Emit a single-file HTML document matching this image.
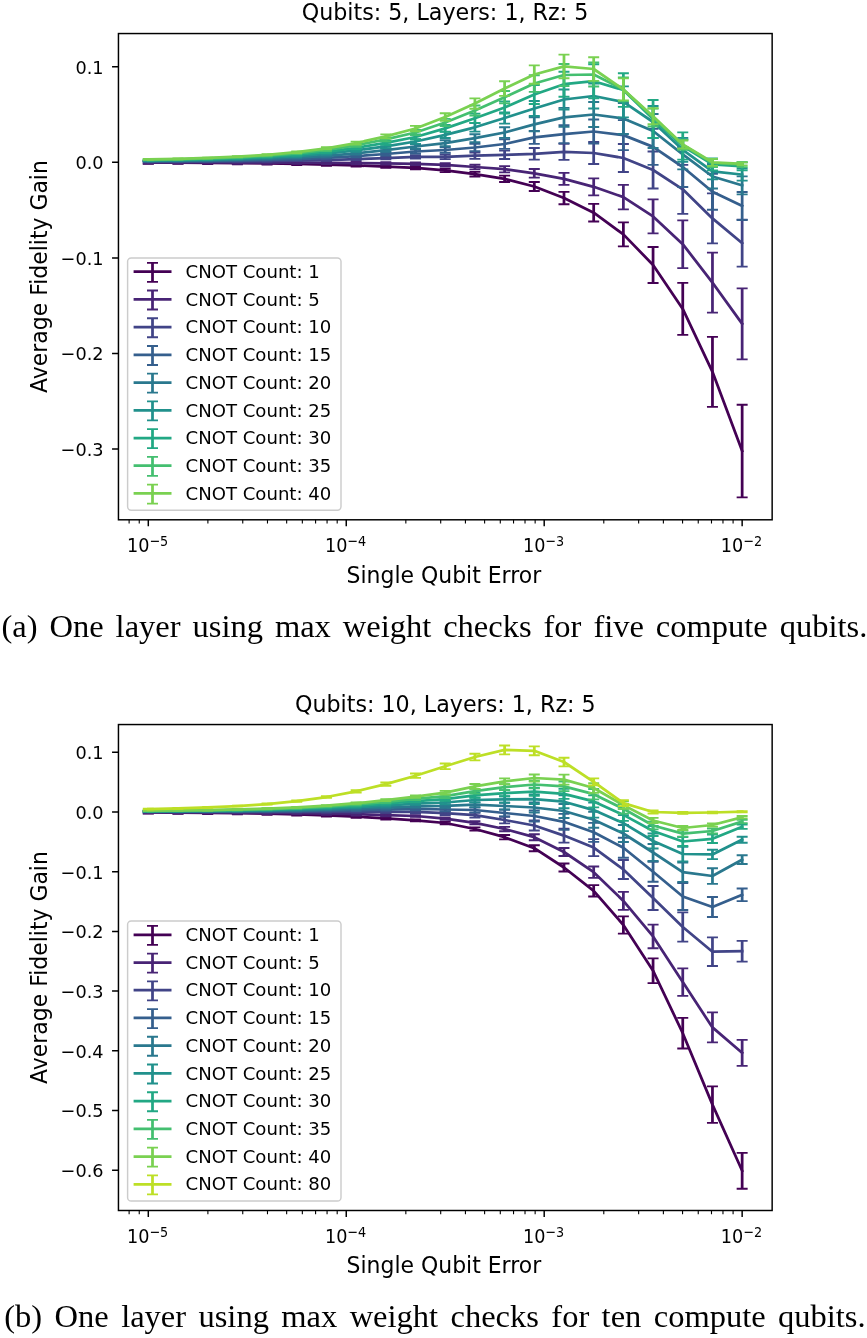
<!DOCTYPE html>
<html lang="en"><head><meta charset="utf-8"><title>Average Fidelity Gain</title>
<style>html,body{margin:0;padding:0;background:#fff}svg{display:block}text{white-space:pre}</style></head>
<body>
<svg width="867" height="1338" viewBox="0 0 867 1338" font-family='"DejaVu Sans", "Liberation Sans", sans-serif' fill="#000">
<defs><filter id="soft" x="0" y="0" width="100%" height="100%" filterUnits="userSpaceOnUse" color-interpolation-filters="sRGB"><feGaussianBlur stdDeviation="0.55"/></filter></defs>
<g filter="url(#soft)">
<clipPath id="c33"><rect x="118.45" y="33.55" width="653.7" height="486.25"/></clipPath>
<g clip-path="url(#c33)" fill="none" stroke-linejoin="round">
<g stroke="#440154">
<polyline points="148.3,162.58 177.99,162.7 207.69,162.87 237.38,163.1 267.07,163.43 296.76,163.9 326.45,164.55 356.15,165.45 385.84,166.58 415.53,167.9 445.22,170.4 474.92,174.2 504.61,178.8 534.3,186.5 563.99,198 593.69,212.7 623.38,234.4 653.07,265 682.76,308.9 712.46,371.8 742.15,451" stroke-width="2.75" stroke-linecap="square"/>
<path d="M148.3 161.38V163.78M177.99 161.5V163.9M207.69 161.67V164.07M237.38 161.9V164.3M267.07 162.23V164.63M296.76 162.7V165.1M326.45 163.35V165.75M356.15 164.25V166.65M385.84 165.38V167.78M415.53 166.6V169.2M445.22 168.7V172.1M474.92 171.9V176.5M504.61 175.6V182M534.3 182V191M563.99 191.8V204.2M593.69 203.9V221.5M623.38 222.4V246.4M653.07 247V283M682.76 282.9V334.9M712.46 336.8V406.8M742.15 404.7V497.3" stroke-width="2.75"/>
<path d="M142.8 161.38h11M142.8 163.78h11M172.49 161.5h11M172.49 163.9h11M202.19 161.67h11M202.19 164.07h11M231.88 161.9h11M231.88 164.3h11M261.57 162.23h11M261.57 164.63h11M291.26 162.7h11M291.26 165.1h11M320.95 163.35h11M320.95 165.75h11M350.65 164.25h11M350.65 166.65h11M380.34 165.38h11M380.34 167.78h11M410.03 166.6h11M410.03 169.2h11M439.72 168.7h11M439.72 172.1h11M469.42 171.9h11M469.42 176.5h11M499.11 175.6h11M499.11 182h11M528.8 182h11M528.8 191h11M558.49 191.8h11M558.49 204.2h11M588.19 203.9h11M588.19 221.5h11M617.88 222.4h11M617.88 246.4h11M647.57 247h11M647.57 283h11M677.26 282.9h11M677.26 334.9h11M706.96 336.8h11M706.96 406.8h11M736.65 404.7h11M736.65 497.3h11" stroke-width="1.85"/>
</g>
<g stroke="#482475">
<polyline points="148.3,162.38 177.99,162.41 207.69,162.45 237.38,162.51 267.07,162.6 296.76,162.73 326.45,162.9 356.15,163.14 385.84,163.45 415.53,163.8 445.22,164.9 474.92,167 504.61,169.2 534.3,173.3 563.99,178.9 593.69,186.8 623.38,197.1 653.07,216.4 682.76,244.2 712.46,282.6 742.15,323.8" stroke-width="2.75" stroke-linecap="square"/>
<path d="M148.3 161.18V163.58M177.99 161.21V163.61M207.69 161.25V163.65M237.38 161.31V163.71M267.07 161.4V163.8M296.76 161.53V163.93M326.45 161.7V164.1M356.15 161.94V164.34M385.84 162.25V164.65M415.53 162.5V165.1M445.22 163.2V166.6M474.92 164.7V169.3M504.61 166.1V172.3M534.3 169V177.6M563.99 172.9V184.9M593.69 178.3V195.3M623.38 184.8V209.4M653.07 199.4V233.4M682.76 220.3V268.1M712.46 252.6V312.6M742.15 288.3V359.3" stroke-width="2.75"/>
<path d="M142.8 161.18h11M142.8 163.58h11M172.49 161.21h11M172.49 163.61h11M202.19 161.25h11M202.19 163.65h11M231.88 161.31h11M231.88 163.71h11M261.57 161.4h11M261.57 163.8h11M291.26 161.53h11M291.26 163.93h11M320.95 161.7h11M320.95 164.1h11M350.65 161.94h11M350.65 164.34h11M380.34 162.25h11M380.34 164.65h11M410.03 162.5h11M410.03 165.1h11M439.72 163.2h11M439.72 166.6h11M469.42 164.7h11M469.42 169.3h11M499.11 166.1h11M499.11 172.3h11M528.8 169h11M528.8 177.6h11M558.49 172.9h11M558.49 184.9h11M588.19 178.3h11M588.19 195.3h11M617.88 184.8h11M617.88 209.4h11M647.57 199.4h11M647.57 233.4h11M677.26 220.3h11M677.26 268.1h11M706.96 252.6h11M706.96 312.6h11M736.65 288.3h11M736.65 359.3h11" stroke-width="1.85"/>
</g>
<g stroke="#414487">
<polyline points="148.3,161.84 177.99,161.75 207.69,161.61 237.38,161.4 267.07,161.11 296.76,160.68 326.45,160.07 356.15,159.22 385.84,158.15 415.53,156.9 445.22,156.8 474.92,155.7 504.61,154.8 534.3,153.8 563.99,151.8 593.69,153 623.38,158 653.07,170 682.76,189.3 712.46,218.4 742.15,243.1" stroke-width="2.75" stroke-linecap="square"/>
<path d="M148.3 161.44V162.24M177.99 161.35V162.15M207.69 161.21V162.01M237.38 161V161.8M267.07 160.71V161.51M296.76 160.17V161.19M326.45 159.38V160.76M356.15 158.29V160.15M385.84 156.89V159.41M415.53 155.2V158.6M445.22 154.5V159.1M474.92 152.6V158.8M504.61 150.6V159M534.3 148V159.6M563.99 143.8V159.8M593.69 142V164M623.38 144V172M653.07 151.5V188.5M682.76 164.8V213.8M712.46 193.4V243.4M742.15 219.6V266.6" stroke-width="2.75"/>
<path d="M142.8 161.44h11M142.8 162.24h11M172.49 161.35h11M172.49 162.15h11M202.19 161.21h11M202.19 162.01h11M231.88 161h11M231.88 161.8h11M261.57 160.71h11M261.57 161.51h11M291.26 160.17h11M291.26 161.19h11M320.95 159.38h11M320.95 160.76h11M350.65 158.29h11M350.65 160.15h11M380.34 156.89h11M380.34 159.41h11M410.03 155.2h11M410.03 158.6h11M439.72 154.5h11M439.72 159.1h11M469.42 152.6h11M469.42 158.8h11M499.11 150.6h11M499.11 159h11M528.8 148h11M528.8 159.6h11M558.49 143.8h11M558.49 159.8h11M588.19 142h11M588.19 164h11M617.88 144h11M617.88 172h11M647.57 151.5h11M647.57 188.5h11M677.26 164.8h11M677.26 213.8h11M706.96 193.4h11M706.96 243.4h11M736.65 219.6h11M736.65 266.6h11" stroke-width="1.85"/>
</g>
<g stroke="#355f8d">
<polyline points="148.3,161.38 177.99,161.2 207.69,160.92 237.38,160.51 267.07,159.91 296.76,159.05 326.45,157.84 356.15,156.15 385.84,154 415.53,151.5 445.22,150 474.92,147.5 504.61,144 534.3,137.3 563.99,134.1 593.69,131.5 623.38,135.1 653.07,146.9 682.76,167 712.46,191.7 742.15,206" stroke-width="2.75" stroke-linecap="square"/>
<path d="M148.3 160.98V161.78M177.99 160.8V161.6M207.69 160.52V161.32M237.38 160.11V160.91M267.07 159.47V160.36M296.76 158.45V159.65M326.45 157.03V158.65M356.15 155.05V157.24M385.84 152.52V155.48M415.53 149.5V153.5M445.22 147.3V152.7M474.92 143.9V151.1M504.61 139.2V148.8M534.3 130.8V143.8M563.99 125.1V143.1M593.69 119.5V143.5M623.38 120.1V150.1M653.07 128.9V164.9M682.76 147V187M712.46 173.7V209.7M742.15 192V220" stroke-width="2.75"/>
<path d="M142.8 160.98h11M142.8 161.78h11M172.49 160.8h11M172.49 161.6h11M202.19 160.52h11M202.19 161.32h11M231.88 160.11h11M231.88 160.91h11M261.57 159.47h11M261.57 160.36h11M291.26 158.45h11M291.26 159.65h11M320.95 157.03h11M320.95 158.65h11M350.65 155.05h11M350.65 157.24h11M380.34 152.52h11M380.34 155.48h11M410.03 149.5h11M410.03 153.5h11M439.72 147.3h11M439.72 152.7h11M469.42 143.9h11M469.42 151.1h11M499.11 139.2h11M499.11 148.8h11M528.8 130.8h11M528.8 143.8h11M558.49 125.1h11M558.49 143.1h11M588.19 119.5h11M588.19 143.5h11M617.88 120.1h11M617.88 150.1h11M647.57 128.9h11M647.57 164.9h11M677.26 147h11M677.26 187h11M706.96 173.7h11M706.96 209.7h11M736.65 192h11M736.65 220h11" stroke-width="1.85"/>
</g>
<g stroke="#2a788e">
<polyline points="148.3,160.96 177.99,160.69 207.69,160.28 237.38,159.68 267.07,158.81 296.76,157.55 326.45,155.77 356.15,153.3 385.84,150.15 415.53,146.5 445.22,143.2 474.92,138.2 504.61,132.5 534.3,124.4 563.99,117.3 593.69,114.5 623.38,118.5 653.07,131 682.76,154.3 712.46,176.5 742.15,185.4" stroke-width="2.75" stroke-linecap="square"/>
<path d="M148.3 160.56V161.36M177.99 160.29V161.09M207.69 159.88V160.68M237.38 159.28V160.08M267.07 158.32V159.3M296.76 156.89V158.21M326.45 154.88V156.66M356.15 152.09V154.5M385.84 148.53V151.78M415.53 144.3V148.7M445.22 140.2V146.2M474.92 134.2V142.2M504.61 127.2V137.8M534.3 117.4V131.4M563.99 107.8V126.8M593.69 102V127M623.38 103V134M653.07 114V148M682.76 139.3V169.3M712.46 164.5V188.5M742.15 176.4V194.4" stroke-width="2.75"/>
<path d="M142.8 160.56h11M142.8 161.36h11M172.49 160.29h11M172.49 161.09h11M202.19 159.88h11M202.19 160.68h11M231.88 159.28h11M231.88 160.08h11M261.57 158.32h11M261.57 159.3h11M291.26 156.89h11M291.26 158.21h11M320.95 154.88h11M320.95 156.66h11M350.65 152.09h11M350.65 154.5h11M380.34 148.53h11M380.34 151.78h11M410.03 144.3h11M410.03 148.7h11M439.72 140.2h11M439.72 146.2h11M469.42 134.2h11M469.42 142.2h11M499.11 127.2h11M499.11 137.8h11M528.8 117.4h11M528.8 131.4h11M558.49 107.8h11M558.49 126.8h11M588.19 102h11M588.19 127h11M617.88 103h11M617.88 134h11M647.57 114h11M647.57 148h11M677.26 139.3h11M677.26 169.3h11M706.96 164.5h11M706.96 188.5h11M736.65 176.4h11M736.65 194.4h11" stroke-width="1.85"/>
</g>
<g stroke="#21918c">
<polyline points="148.3,160.54 177.99,160.18 207.69,159.64 237.38,158.85 267.07,157.7 296.76,156.05 326.45,153.7 356.15,150.45 385.84,146.31 415.53,141.5 445.22,134.8 474.92,127.3 504.61,118 534.3,108.5 563.99,99.5 593.69,96 623.38,101.9 653.07,122 682.76,149.8 712.46,171.4 742.15,174.6" stroke-width="2.75" stroke-linecap="square"/>
<path d="M148.3 160.14V160.94M177.99 159.78V160.58M207.69 159.24V160.04M237.38 158.45V159.25M267.07 157.17V158.24M296.76 155.33V156.77M326.45 152.73V154.67M356.15 149.13V151.76M385.84 144.53V148.09M415.53 139.1V143.9M445.22 131.6V138M474.92 123V131.6M504.61 112.4V123.6M534.3 101V116M563.99 89.5V109.5M593.69 83.5V108.5M623.38 86.4V117.4M653.07 106V138M682.76 137.8V161.8M712.46 163.4V179.4M742.15 168.6V180.6" stroke-width="2.75"/>
<path d="M142.8 160.14h11M142.8 160.94h11M172.49 159.78h11M172.49 160.58h11M202.19 159.24h11M202.19 160.04h11M231.88 158.45h11M231.88 159.25h11M261.57 157.17h11M261.57 158.24h11M291.26 155.33h11M291.26 156.77h11M320.95 152.73h11M320.95 154.67h11M350.65 149.13h11M350.65 151.76h11M380.34 144.53h11M380.34 148.09h11M410.03 139.1h11M410.03 143.9h11M439.72 131.6h11M439.72 138h11M469.42 123h11M469.42 131.6h11M499.11 112.4h11M499.11 123.6h11M528.8 101h11M528.8 116h11M558.49 89.5h11M558.49 109.5h11M588.19 83.5h11M588.19 108.5h11M617.88 86.4h11M617.88 117.4h11M647.57 106h11M647.57 138h11M677.26 137.8h11M677.26 161.8h11M706.96 163.4h11M706.96 179.4h11M736.65 168.6h11M736.65 180.6h11" stroke-width="1.85"/>
</g>
<g stroke="#22a884">
<polyline points="148.3,160.15 177.99,159.72 207.69,159.07 237.38,158.11 267.07,156.71 296.76,154.7 326.45,151.84 356.15,147.88 385.84,142.85 415.53,137 445.22,128.4 474.92,118.2 504.61,107.5 534.3,94.5 563.99,84.2 593.69,81.2 623.38,90 653.07,119 682.76,146 712.46,164.4 742.15,166.3" stroke-width="2.75" stroke-linecap="square"/>
<path d="M148.3 159.75V160.55M177.99 159.32V160.12M207.69 158.67V159.47M237.38 157.7V158.52M267.07 156.15V157.26M296.76 153.95V155.45M326.45 150.83V152.85M356.15 146.51V149.25M385.84 141V144.7M415.53 134.5V139.5M445.22 125V131.8M474.92 113.6V122.8M504.61 101.5V113.5M534.3 85V104M563.99 71.7V96.7M593.69 64.2V98.2M623.38 73.2V106.8M653.07 100V138M682.76 132.4V159.6M712.46 158.4V170.4M742.15 162.3V170.3" stroke-width="2.75"/>
<path d="M142.8 159.75h11M142.8 160.55h11M172.49 159.32h11M172.49 160.12h11M202.19 158.67h11M202.19 159.47h11M231.88 157.7h11M231.88 158.52h11M261.57 156.15h11M261.57 157.26h11M291.26 153.95h11M291.26 155.45h11M320.95 150.83h11M320.95 152.85h11M350.65 146.51h11M350.65 149.25h11M380.34 141h11M380.34 144.7h11M410.03 134.5h11M410.03 139.5h11M439.72 125h11M439.72 131.8h11M469.42 113.6h11M469.42 122.8h11M499.11 101.5h11M499.11 113.5h11M528.8 85h11M528.8 104h11M558.49 71.7h11M558.49 96.7h11M588.19 64.2h11M588.19 98.2h11M617.88 73.2h11M617.88 106.8h11M647.57 100h11M647.57 138h11M677.26 132.4h11M677.26 159.6h11M706.96 158.4h11M706.96 170.4h11M736.65 162.3h11M736.65 170.3h11" stroke-width="1.85"/>
</g>
<g stroke="#44bf70">
<polyline points="148.3,159.77 177.99,159.26 207.69,158.49 237.38,157.36 267.07,155.71 296.76,153.34 326.45,149.98 356.15,145.32 385.84,139.39 415.53,132.5 445.22,122.5 474.92,110.5 504.61,97.2 534.3,83.5 563.99,75 593.69,74.5 623.38,89.4 653.07,117.5 682.76,144.9 712.46,163 742.15,164.6" stroke-width="2.75" stroke-linecap="square"/>
<path d="M148.3 159.37V160.17M177.99 158.86V159.66M207.69 158.09V158.89M237.38 156.93V157.79M267.07 155.14V156.29M296.76 152.56V154.12M326.45 148.93V151.04M356.15 143.9V146.74M385.84 137.47V141.31M415.53 129.9V135.1M445.22 118.9V126.1M474.92 105.5V115.5M504.61 91V103.4M534.3 75.2V91.8M563.99 64V86M593.69 62.5V86.5M623.38 77.4V101.4M653.07 108.5V126.5M682.76 139.9V149.9M712.46 159V167M742.15 162.1V167.1" stroke-width="2.75"/>
<path d="M142.8 159.37h11M142.8 160.17h11M172.49 158.86h11M172.49 159.66h11M202.19 158.09h11M202.19 158.89h11M231.88 156.93h11M231.88 157.79h11M261.57 155.14h11M261.57 156.29h11M291.26 152.56h11M291.26 154.12h11M320.95 148.93h11M320.95 151.04h11M350.65 143.9h11M350.65 146.74h11M380.34 137.47h11M380.34 141.31h11M410.03 129.9h11M410.03 135.1h11M439.72 118.9h11M439.72 126.1h11M469.42 105.5h11M469.42 115.5h11M499.11 91h11M499.11 103.4h11M528.8 75.2h11M528.8 91.8h11M558.49 64h11M558.49 86h11M588.19 62.5h11M588.19 86.5h11M617.88 77.4h11M617.88 101.4h11M647.57 108.5h11M647.57 126.5h11M677.26 139.9h11M677.26 149.9h11M706.96 159h11M706.96 167h11M736.65 162.1h11M736.65 167.1h11" stroke-width="1.85"/>
</g>
<g stroke="#7ad151">
<polyline points="148.3,159.43 177.99,158.85 207.69,157.98 237.38,156.7 267.07,154.83 296.76,152.14 326.45,148.33 356.15,143.04 385.84,136.32 415.53,128.5 445.22,117 474.92,103.5 504.61,88.5 534.3,74.5 563.99,66.4 593.69,69 623.38,89.4 653.07,116.2 682.76,144.5 712.46,162.3 742.15,163.8" stroke-width="2.75" stroke-linecap="square"/>
<path d="M148.3 159.03V159.83M177.99 158.45V159.25M207.69 157.58V158.38M237.38 156.25V157.14M267.07 154.23V155.43M296.76 151.33V152.95M326.45 147.23V149.42M356.15 141.56V144.52M385.84 134.32V138.31M415.53 125.8V131.2M445.22 113.2V120.8M474.92 98.3V108.7M504.61 81.2V95.8M534.3 65.3V83.7M563.99 54.6V78.2M593.69 57.2V80.8M623.38 78.4V100.4M653.07 108.2V124.2M682.76 140.5V148.5M712.46 158.8V165.8M742.15 162.3V165.3" stroke-width="2.75"/>
<path d="M142.8 159.03h11M142.8 159.83h11M172.49 158.45h11M172.49 159.25h11M202.19 157.58h11M202.19 158.38h11M231.88 156.25h11M231.88 157.14h11M261.57 154.23h11M261.57 155.43h11M291.26 151.33h11M291.26 152.95h11M320.95 147.23h11M320.95 149.42h11M350.65 141.56h11M350.65 144.52h11M380.34 134.32h11M380.34 138.31h11M410.03 125.8h11M410.03 131.2h11M439.72 113.2h11M439.72 120.8h11M469.42 98.3h11M469.42 108.7h11M499.11 81.2h11M499.11 95.8h11M528.8 65.3h11M528.8 83.7h11M558.49 54.6h11M558.49 78.2h11M588.19 57.2h11M588.19 80.8h11M617.88 78.4h11M617.88 100.4h11M647.57 108.2h11M647.57 124.2h11M677.26 140.5h11M677.26 148.5h11M706.96 158.8h11M706.96 165.8h11M736.65 162.3h11M736.65 165.3h11" stroke-width="1.85"/>
</g>
</g>
<rect x="127.6" y="257.9" width="213.4" height="252.3" rx="3.6" fill="#fff" fill-opacity="0.8" stroke="#ccc" stroke-width="1.45"/>
<g stroke="#440154" fill="none">
<path d="M133.6 271.7H171.5" stroke-width="2.75"/>
<path d="M152.5 262.8V281.8" stroke-width="2.75"/>
<path d="M147 262.8h11M147 281.8h11" stroke-width="1.85"/>
</g>
<text x="185.5" y="277.9" font-size="18.1">CNOT Count: 1</text>
<g stroke="#482475" fill="none">
<path d="M133.6 299.42H171.5" stroke-width="2.75"/>
<path d="M152.5 290.52V309.52" stroke-width="2.75"/>
<path d="M147 290.52h11M147 309.52h11" stroke-width="1.85"/>
</g>
<text x="185.5" y="305.62" font-size="18.1">CNOT Count: 5</text>
<g stroke="#414487" fill="none">
<path d="M133.6 327.14H171.5" stroke-width="2.75"/>
<path d="M152.5 318.24V337.24" stroke-width="2.75"/>
<path d="M147 318.24h11M147 337.24h11" stroke-width="1.85"/>
</g>
<text x="185.5" y="333.34" font-size="18.1">CNOT Count: 10</text>
<g stroke="#355f8d" fill="none">
<path d="M133.6 354.86H171.5" stroke-width="2.75"/>
<path d="M152.5 345.96V364.96" stroke-width="2.75"/>
<path d="M147 345.96h11M147 364.96h11" stroke-width="1.85"/>
</g>
<text x="185.5" y="361.06" font-size="18.1">CNOT Count: 15</text>
<g stroke="#2a788e" fill="none">
<path d="M133.6 382.58H171.5" stroke-width="2.75"/>
<path d="M152.5 373.68V392.68" stroke-width="2.75"/>
<path d="M147 373.68h11M147 392.68h11" stroke-width="1.85"/>
</g>
<text x="185.5" y="388.78" font-size="18.1">CNOT Count: 20</text>
<g stroke="#21918c" fill="none">
<path d="M133.6 410.3H171.5" stroke-width="2.75"/>
<path d="M152.5 401.4V420.4" stroke-width="2.75"/>
<path d="M147 401.4h11M147 420.4h11" stroke-width="1.85"/>
</g>
<text x="185.5" y="416.5" font-size="18.1">CNOT Count: 25</text>
<g stroke="#22a884" fill="none">
<path d="M133.6 438.02H171.5" stroke-width="2.75"/>
<path d="M152.5 429.12V448.12" stroke-width="2.75"/>
<path d="M147 429.12h11M147 448.12h11" stroke-width="1.85"/>
</g>
<text x="185.5" y="444.22" font-size="18.1">CNOT Count: 30</text>
<g stroke="#44bf70" fill="none">
<path d="M133.6 465.74H171.5" stroke-width="2.75"/>
<path d="M152.5 456.84V475.84" stroke-width="2.75"/>
<path d="M147 456.84h11M147 475.84h11" stroke-width="1.85"/>
</g>
<text x="185.5" y="471.94" font-size="18.1">CNOT Count: 35</text>
<g stroke="#7ad151" fill="none">
<path d="M133.6 493.46H171.5" stroke-width="2.75"/>
<path d="M152.5 484.56V503.56" stroke-width="2.75"/>
<path d="M147 484.56h11M147 503.56h11" stroke-width="1.85"/>
</g>
<text x="185.5" y="499.66" font-size="18.1">CNOT Count: 40</text>
<rect x="118.45" y="33.55" width="653.7" height="486.25" fill="none" stroke="#000" stroke-width="1.47"/>
<path d="M148.3 519.8v6.4M346.25 519.8v6.4M544.2 519.8v6.4M742.15 519.8v6.4" stroke="#000" stroke-width="1.47" fill="none"/>
<path d="M129.12 519.8v3.7M139.24 519.8v3.7M207.89 519.8v3.7M242.75 519.8v3.7M267.48 519.8v3.7M286.66 519.8v3.7M302.34 519.8v3.7M315.59 519.8v3.7M327.07 519.8v3.7M337.19 519.8v3.7M405.84 519.8v3.7M440.7 519.8v3.7M465.43 519.8v3.7M484.61 519.8v3.7M500.29 519.8v3.7M513.54 519.8v3.7M525.02 519.8v3.7M535.14 519.8v3.7M603.79 519.8v3.7M638.65 519.8v3.7M663.38 519.8v3.7M682.56 519.8v3.7M698.24 519.8v3.7M711.49 519.8v3.7M722.97 519.8v3.7M733.09 519.8v3.7" stroke="#000" stroke-width="1.1" fill="none"/>
<text transform="translate(127 552.2) scale(0.965 1.02)" font-size="18.3">10</text>
<text transform="translate(149.4 545.8) scale(1 1.16)" font-size="12.8">−5</text>
<text transform="translate(324.95 552.2) scale(0.965 1.02)" font-size="18.3">10</text>
<text transform="translate(347.35 545.8) scale(1 1.16)" font-size="12.8">−4</text>
<text transform="translate(522.9 552.2) scale(0.965 1.02)" font-size="18.3">10</text>
<text transform="translate(545.3 545.8) scale(1 1.16)" font-size="12.8">−3</text>
<text transform="translate(720.85 552.2) scale(0.965 1.02)" font-size="18.3">10</text>
<text transform="translate(743.25 545.8) scale(1 1.16)" font-size="12.8">−2</text>
<path d="M118.45 66.7h-6.4M118.45 162.3h-6.4M118.45 257.9h-6.4M118.45 353.5h-6.4M118.45 449.1h-6.4" stroke="#000" stroke-width="1.47" fill="none"/>
<text transform="translate(103.6 73.6) scale(0.967 1)" font-size="18.3" text-anchor="end">0.1</text>
<text transform="translate(103.6 169.2) scale(0.967 1)" font-size="18.3" text-anchor="end">0.0</text>
<text transform="translate(103.6 264.8) scale(0.967 1)" font-size="18.3" text-anchor="end">−0.1</text>
<text transform="translate(103.6 360.4) scale(0.967 1)" font-size="18.3" text-anchor="end">−0.2</text>
<text transform="translate(103.6 456) scale(0.967 1)" font-size="18.3" text-anchor="end">−0.3</text>
<text transform="translate(445 20.4) scale(1 1.06)" font-size="22.2" text-anchor="middle">Qubits: 5, Layers: 1, Rz: 5</text>
<text transform="translate(443.9 582.8) scale(1 1.08)" font-size="21.95" text-anchor="middle">Single Qubit Error</text>
<text transform="translate(47.1 276.5) rotate(-90) scale(1 1.08)" font-size="21.95" text-anchor="middle">Average Fidelity Gain</text>
<clipPath id="c724"><rect x="118.45" y="724.55" width="653.7" height="485.95"/></clipPath>
<g clip-path="url(#c724)" fill="none" stroke-linejoin="round">
<g stroke="#440154">
<polyline points="148.3,812.42 177.99,812.6 207.69,812.84 237.38,813.19 267.07,813.68 296.76,814.37 326.45,815.34 356.15,816.67 385.84,818.35 415.53,820.3 445.22,823 474.92,829 504.61,837.2 534.3,848.2 563.99,867.5 593.69,890.8 623.38,925 653.07,970.7 682.76,1033.2 712.46,1104.6 742.15,1170.8" stroke-width="2.75" stroke-linecap="square"/>
<path d="M148.3 811.22V813.62M177.99 811.4V813.8M207.69 811.64V814.04M237.38 811.99V814.39M267.07 812.48V814.88M296.76 813.17V815.57M326.45 814.14V816.54M356.15 815.47V817.87M385.84 817.15V819.55M415.53 819.4V821.2M445.22 821.8V824.2M474.92 827.4V830.6M504.61 835V839.4M534.3 845.2V851.2M563.99 863.5V871.5M593.69 885.1V896.5M623.38 916.4V933.6M653.07 958.3V983.1M682.76 1017.9V1048.5M712.46 1086.3V1122.9M742.15 1152.9V1188.7" stroke-width="2.75"/>
<path d="M142.8 811.22h11M142.8 813.62h11M172.49 811.4h11M172.49 813.8h11M202.19 811.64h11M202.19 814.04h11M231.88 811.99h11M231.88 814.39h11M261.57 812.48h11M261.57 814.88h11M291.26 813.17h11M291.26 815.57h11M320.95 814.14h11M320.95 816.54h11M350.65 815.47h11M350.65 817.87h11M380.34 817.15h11M380.34 819.55h11M410.03 819.4h11M410.03 821.2h11M439.72 821.8h11M439.72 824.2h11M469.42 827.4h11M469.42 830.6h11M499.11 835h11M499.11 839.4h11M528.8 845.2h11M528.8 851.2h11M558.49 863.5h11M558.49 871.5h11M588.19 885.1h11M588.19 896.5h11M617.88 916.4h11M617.88 933.6h11M647.57 958.3h11M647.57 983.1h11M677.26 1017.9h11M677.26 1048.5h11M706.96 1086.3h11M706.96 1122.9h11M736.65 1152.9h11M736.65 1188.7h11" stroke-width="1.85"/>
</g>
<g stroke="#482475">
<polyline points="148.3,812.2 177.99,812.29 207.69,812.41 237.38,812.57 267.07,812.81 296.76,813.14 326.45,813.61 356.15,814.25 385.84,815.06 415.53,816 445.22,818.6 474.92,822.8 504.61,829 534.3,837.2 563.99,852 593.69,872.2 623.38,900.9 653.07,936.4 682.76,982.1 712.46,1027.4 742.15,1052.8" stroke-width="2.75" stroke-linecap="square"/>
<path d="M148.3 811V813.4M177.99 811.09V813.49M207.69 811.21V813.61M237.38 811.37V813.77M267.07 811.61V814.01M296.76 811.94V814.34M326.45 812.41V814.81M356.15 813.05V815.45M385.84 813.86V816.26M415.53 815.1V816.9M445.22 817.4V819.8M474.92 821.2V824.4M504.61 826.8V831.2M534.3 834.2V840.2M563.99 848V856M593.69 866.5V877.9M623.38 891.9V909.9M653.07 924.6V948.2M682.76 968.4V995.8M712.46 1012.4V1042.4M742.15 1039.8V1065.8" stroke-width="2.75"/>
<path d="M142.8 811h11M142.8 813.4h11M172.49 811.09h11M172.49 813.49h11M202.19 811.21h11M202.19 813.61h11M231.88 811.37h11M231.88 813.77h11M261.57 811.61h11M261.57 814.01h11M291.26 811.94h11M291.26 814.34h11M320.95 812.41h11M320.95 814.81h11M350.65 813.05h11M350.65 815.45h11M380.34 813.86h11M380.34 816.26h11M410.03 815.1h11M410.03 816.9h11M439.72 817.4h11M439.72 819.8h11M469.42 821.2h11M469.42 824.4h11M499.11 826.8h11M499.11 831.2h11M528.8 834.2h11M528.8 840.2h11M558.49 848h11M558.49 856h11M588.19 866.5h11M588.19 877.9h11M617.88 891.9h11M617.88 909.9h11M647.57 924.6h11M647.57 948.2h11M677.26 968.4h11M677.26 995.8h11M706.96 1012.4h11M706.96 1042.4h11M736.65 1039.8h11M736.65 1065.8h11" stroke-width="1.85"/>
</g>
<g stroke="#414487">
<polyline points="148.3,811.99 177.99,811.99 207.69,811.99 237.38,811.98 267.07,811.98 296.76,811.97 326.45,811.96 356.15,811.94 385.84,811.92 415.53,811.9 445.22,813.2 474.92,815.2 504.61,820 534.3,825.5 563.99,835.6 593.69,847.6 623.38,869.5 653.07,898 682.76,927 712.46,951.7 742.15,951.2" stroke-width="2.75" stroke-linecap="square"/>
<path d="M148.3 811.59V812.39M177.99 811.59V812.39M207.69 811.59V812.39M237.38 811.58V812.38M267.07 811.58V812.38M296.76 811.57V812.37M326.45 811.43V812.49M356.15 811.23V812.65M385.84 810.96V812.89M415.53 810.6V813.2M445.22 811.4V815M474.92 812.8V817.6M504.61 816.7V823.3M534.3 820.5V830.5M563.99 828.6V842.6M593.69 839.1V856.1M623.38 860V879M653.07 886V910M682.76 912.4V941.6M712.46 937.4V966M742.15 940.8V961.6" stroke-width="2.75"/>
<path d="M142.8 811.59h11M142.8 812.39h11M172.49 811.59h11M172.49 812.39h11M202.19 811.59h11M202.19 812.39h11M231.88 811.58h11M231.88 812.38h11M261.57 811.58h11M261.57 812.38h11M291.26 811.57h11M291.26 812.37h11M320.95 811.43h11M320.95 812.49h11M350.65 811.23h11M350.65 812.65h11M380.34 810.96h11M380.34 812.89h11M410.03 810.6h11M410.03 813.2h11M439.72 811.4h11M439.72 815h11M469.42 812.8h11M469.42 817.6h11M499.11 816.7h11M499.11 823.3h11M528.8 820.5h11M528.8 830.5h11M558.49 828.6h11M558.49 842.6h11M588.19 839.1h11M588.19 856.1h11M617.88 860h11M617.88 879h11M647.57 886h11M647.57 910h11M677.26 912.4h11M677.26 941.6h11M706.96 937.4h11M706.96 966h11M736.65 940.8h11M736.65 961.6h11" stroke-width="1.85"/>
</g>
<g stroke="#355f8d">
<polyline points="148.3,811.74 177.99,811.69 207.69,811.61 237.38,811.49 267.07,811.32 296.76,811.07 326.45,810.72 356.15,810.24 385.84,809.62 415.53,808.9 445.22,809.5 474.92,810 504.61,813 534.3,816 563.99,821.8 593.69,832.3 623.38,847.7 653.07,871.7 682.76,896.5 712.46,907 742.15,894.8" stroke-width="2.75" stroke-linecap="square"/>
<path d="M148.3 811.34V812.14M177.99 811.29V812.09M207.69 811.21V812.01M237.38 811.09V811.89M267.07 810.92V811.72M296.76 810.67V811.47M326.45 810.19V811.25M356.15 809.52V810.95M385.84 808.66V810.58M415.53 807.6V810.2M445.22 807.7V811.3M474.92 807.6V812.4M504.61 809.7V816.3M534.3 810.5V821.5M563.99 813.8V829.8M593.69 822.8V841.8M623.38 837.7V857.7M653.07 861.7V881.7M682.76 883V910M712.46 897V917M742.15 888.5V901.1" stroke-width="2.75"/>
<path d="M142.8 811.34h11M142.8 812.14h11M172.49 811.29h11M172.49 812.09h11M202.19 811.21h11M202.19 812.01h11M231.88 811.09h11M231.88 811.89h11M261.57 810.92h11M261.57 811.72h11M291.26 810.67h11M291.26 811.47h11M320.95 810.19h11M320.95 811.25h11M350.65 809.52h11M350.65 810.95h11M380.34 808.66h11M380.34 810.58h11M410.03 807.6h11M410.03 810.2h11M439.72 807.7h11M439.72 811.3h11M469.42 807.6h11M469.42 812.4h11M499.11 809.7h11M499.11 816.3h11M528.8 810.5h11M528.8 821.5h11M558.49 813.8h11M558.49 829.8h11M588.19 822.8h11M588.19 841.8h11M617.88 837.7h11M617.88 857.7h11M647.57 861.7h11M647.57 881.7h11M677.26 883h11M677.26 910h11M706.96 897h11M706.96 917h11M736.65 888.5h11M736.65 901.1h11" stroke-width="1.85"/>
</g>
<g stroke="#2a788e">
<polyline points="148.3,811.53 177.99,811.43 207.69,811.28 237.38,811.06 267.07,810.75 296.76,810.29 326.45,809.65 356.15,808.75 385.84,807.62 415.53,806.3 445.22,805.9 474.92,804.7 504.61,806 534.3,807.5 563.99,811 593.69,819.7 623.38,833.5 653.07,852.5 682.76,872.2 712.46,876 742.15,859.6" stroke-width="2.75" stroke-linecap="square"/>
<path d="M148.3 811.13V811.93M177.99 811.03V811.83M207.69 810.88V811.68M237.38 810.66V811.46M267.07 810.35V811.15M296.76 809.89V810.69M326.45 809.12V810.18M356.15 808.04V809.47M385.84 806.66V808.58M415.53 805V807.6M445.22 804.1V807.7M474.92 802.3V807.1M504.61 802.7V809.3M534.3 802.5V812.5M563.99 804V818M593.69 811.7V827.7M623.38 825V842M653.07 844V861M682.76 862.5V881.9M712.46 868.2V883.8M742.15 855.2V864" stroke-width="2.75"/>
<path d="M142.8 811.13h11M142.8 811.93h11M172.49 811.03h11M172.49 811.83h11M202.19 810.88h11M202.19 811.68h11M231.88 810.66h11M231.88 811.46h11M261.57 810.35h11M261.57 811.15h11M291.26 809.89h11M291.26 810.69h11M320.95 809.12h11M320.95 810.18h11M350.65 808.04h11M350.65 809.47h11M380.34 806.66h11M380.34 808.58h11M410.03 805h11M410.03 807.6h11M439.72 804.1h11M439.72 807.7h11M469.42 802.3h11M469.42 807.1h11M499.11 802.7h11M499.11 809.3h11M528.8 802.5h11M528.8 812.5h11M558.49 804h11M558.49 818h11M588.19 811.7h11M588.19 827.7h11M617.88 825h11M617.88 842h11M647.57 844h11M647.57 861h11M677.26 862.5h11M677.26 881.9h11M706.96 868.2h11M706.96 883.8h11M736.65 855.2h11M736.65 864h11" stroke-width="1.85"/>
</g>
<g stroke="#21918c">
<polyline points="148.3,811.31 177.99,811.16 207.69,810.94 237.38,810.62 267.07,810.15 296.76,809.48 326.45,808.53 356.15,807.22 385.84,805.54 415.53,803.6 445.22,802.5 474.92,800 504.61,799.4 534.3,799.2 563.99,801.7 593.69,810.1 623.38,823.1 653.07,841 682.76,854 712.46,854.4 742.15,839.7" stroke-width="2.75" stroke-linecap="square"/>
<path d="M148.3 810.91V811.71M177.99 810.76V811.56M207.69 810.54V811.34M237.38 810.22V811.02M267.07 809.75V810.55M296.76 809.08V809.88M326.45 808.01V809.06M356.15 806.51V807.93M385.84 804.58V806.51M415.53 802.3V804.9M445.22 800.7V804.3M474.92 797.6V802.4M504.61 796.2V802.6M534.3 794.4V804M563.99 795.2V808.2M593.69 802.6V817.6M623.38 815.1V831.1M653.07 833.5V848.5M682.76 846.7V861.3M712.46 849.7V859.1M742.15 836.7V842.7" stroke-width="2.75"/>
<path d="M142.8 810.91h11M142.8 811.71h11M172.49 810.76h11M172.49 811.56h11M202.19 810.54h11M202.19 811.34h11M231.88 810.22h11M231.88 811.02h11M261.57 809.75h11M261.57 810.55h11M291.26 809.08h11M291.26 809.88h11M320.95 808.01h11M320.95 809.06h11M350.65 806.51h11M350.65 807.93h11M380.34 804.58h11M380.34 806.51h11M410.03 802.3h11M410.03 804.9h11M439.72 800.7h11M439.72 804.3h11M469.42 797.6h11M469.42 802.4h11M499.11 796.2h11M499.11 802.6h11M528.8 794.4h11M528.8 804h11M558.49 795.2h11M558.49 808.2h11M588.19 802.6h11M588.19 817.6h11M617.88 815.1h11M617.88 831.1h11M647.57 833.5h11M647.57 848.5h11M677.26 846.7h11M677.26 861.3h11M706.96 849.7h11M706.96 859.1h11M736.65 836.7h11M736.65 842.7h11" stroke-width="1.85"/>
</g>
<g stroke="#22a884">
<polyline points="148.3,811.1 177.99,810.91 207.69,810.63 237.38,810.21 267.07,809.61 296.76,808.74 326.45,807.5 356.15,805.79 385.84,803.62 415.53,801.1 445.22,799.1 474.92,795.3 504.61,793.2 534.3,791.7 563.99,793.8 593.69,801.4 623.38,814.9 653.07,831 682.76,841.5 712.46,838.8 742.15,826.7" stroke-width="2.75" stroke-linecap="square"/>
<path d="M148.3 810.7V811.5M177.99 810.51V811.31M207.69 810.23V811.03M237.38 809.81V810.61M267.07 809.21V810.01M296.76 808.34V809.14M326.45 806.98V808.03M356.15 805.08V806.51M385.84 802.66V804.59M415.53 799.8V802.4M445.22 797.3V800.9M474.92 792.9V797.7M504.61 790.1V796.3M534.3 787.7V795.7M563.99 788.8V798.8M593.69 795.4V807.4M623.38 808.9V820.9M653.07 826V836M682.76 837V846M712.46 834.6V843M742.15 824.5V828.9" stroke-width="2.75"/>
<path d="M142.8 810.7h11M142.8 811.5h11M172.49 810.51h11M172.49 811.31h11M202.19 810.23h11M202.19 811.03h11M231.88 809.81h11M231.88 810.61h11M261.57 809.21h11M261.57 810.01h11M291.26 808.34h11M291.26 809.14h11M320.95 806.98h11M320.95 808.03h11M350.65 805.08h11M350.65 806.51h11M380.34 802.66h11M380.34 804.59h11M410.03 799.8h11M410.03 802.4h11M439.72 797.3h11M439.72 800.9h11M469.42 792.9h11M469.42 797.7h11M499.11 790.1h11M499.11 796.3h11M528.8 787.7h11M528.8 795.7h11M558.49 788.8h11M558.49 798.8h11M588.19 795.4h11M588.19 807.4h11M617.88 808.9h11M617.88 820.9h11M647.57 826h11M647.57 836h11M677.26 837h11M677.26 846h11M706.96 834.6h11M706.96 843h11M736.65 824.5h11M736.65 828.9h11" stroke-width="1.85"/>
</g>
<g stroke="#44bf70">
<polyline points="148.3,810.91 177.99,810.68 207.69,810.34 237.38,809.83 267.07,809.1 296.76,808.05 326.45,806.55 356.15,804.49 385.84,801.86 415.53,798.8 445.22,796.2 474.92,791.2 504.61,787.1 534.3,784.5 563.99,786.3 593.69,794.2 623.38,808.8 653.07,825.5 682.76,833.6 712.46,831 742.15,821.5" stroke-width="2.75" stroke-linecap="square"/>
<path d="M148.3 810.51V811.31M177.99 810.28V811.08M207.69 809.94V810.74M237.38 809.43V810.23M267.07 808.7V809.5M296.76 807.65V808.45M326.45 806.03V807.08M356.15 803.77V805.2M385.84 800.89V802.82M415.53 797.5V800.1M445.22 794.4V798M474.92 788.8V793.6M504.61 784.1V790.1M534.3 780.7V788.3M563.99 781.5V791.1M593.69 789V799.4M623.38 804V813.6M653.07 821.7V829.3M682.76 830.6V836.6M712.46 828.5V833.5M742.15 819.9V823.1" stroke-width="2.75"/>
<path d="M142.8 810.51h11M142.8 811.31h11M172.49 810.28h11M172.49 811.08h11M202.19 809.94h11M202.19 810.74h11M231.88 809.43h11M231.88 810.23h11M261.57 808.7h11M261.57 809.5h11M291.26 807.65h11M291.26 808.45h11M320.95 806.03h11M320.95 807.08h11M350.65 803.77h11M350.65 805.2h11M380.34 800.89h11M380.34 802.82h11M410.03 797.5h11M410.03 800.1h11M439.72 794.4h11M439.72 798h11M469.42 788.8h11M469.42 793.6h11M499.11 784.1h11M499.11 790.1h11M528.8 780.7h11M528.8 788.3h11M558.49 781.5h11M558.49 791.1h11M588.19 789h11M588.19 799.4h11M617.88 804h11M617.88 813.6h11M647.57 821.7h11M647.57 829.3h11M677.26 830.6h11M677.26 836.6h11M706.96 828.5h11M706.96 833.5h11M736.65 819.9h11M736.65 823.1h11" stroke-width="1.85"/>
</g>
<g stroke="#7ad151">
<polyline points="148.3,810.73 177.99,810.46 207.69,810.06 237.38,809.47 267.07,808.62 296.76,807.39 326.45,805.65 356.15,803.23 385.84,800.16 415.53,796.6 445.22,792.7 474.92,786.4 504.61,781.3 534.3,778 563.99,779.6 593.69,788 623.38,805.1 653.07,820.5 682.76,828 712.46,825 742.15,817.2" stroke-width="2.75" stroke-linecap="square"/>
<path d="M148.3 810.33V811.13M177.99 810.06V810.86M207.69 809.66V810.46M237.38 809.07V809.87M267.07 808.22V809.02M296.76 806.99V807.79M326.45 805.12V806.17M356.15 802.52V803.94M385.84 799.2V801.13M415.53 795.3V797.9M445.22 790.9V794.5M474.92 784V788.8M504.61 778.3V784.3M534.3 774.5V781.5M563.99 774.6V784.6M593.69 783.2V792.8M623.38 801.3V808.9M653.07 817.9V823.1M682.76 826V830M712.46 823.4V826.6M742.15 816V818.4" stroke-width="2.75"/>
<path d="M142.8 810.33h11M142.8 811.13h11M172.49 810.06h11M172.49 810.86h11M202.19 809.66h11M202.19 810.46h11M231.88 809.07h11M231.88 809.87h11M261.57 808.22h11M261.57 809.02h11M291.26 806.99h11M291.26 807.79h11M320.95 805.12h11M320.95 806.17h11M350.65 802.52h11M350.65 803.94h11M380.34 799.2h11M380.34 801.13h11M410.03 795.3h11M410.03 797.9h11M439.72 790.9h11M439.72 794.5h11M469.42 784h11M469.42 788.8h11M499.11 778.3h11M499.11 784.3h11M528.8 774.5h11M528.8 781.5h11M558.49 774.6h11M558.49 784.6h11M588.19 783.2h11M588.19 792.8h11M617.88 801.3h11M617.88 808.9h11M647.57 817.9h11M647.57 823.1h11M677.26 826h11M677.26 830h11M706.96 823.4h11M706.96 826.6h11M736.65 816h11M736.65 818.4h11" stroke-width="1.85"/>
</g>
<g stroke="#bddf26">
<polyline points="148.3,809.01 177.99,808.37 207.69,807.43 237.38,806.04 267.07,804.03 296.76,801.13 326.45,797.02 356.15,791.33 385.84,784.1 415.53,775.7 445.22,766.3 474.92,757 504.61,749.9 534.3,750.8 563.99,762 593.69,781.8 623.38,803.1 653.07,812 682.76,812.9 712.46,812.5 742.15,811.7" stroke-width="2.75" stroke-linecap="square"/>
<path d="M148.3 808.61V809.41M177.99 807.97V808.77M207.69 807.03V807.83M237.38 805.64V806.44M267.07 803.54V804.51M296.76 800.47V801.79M326.45 796.13V797.91M356.15 790.13V792.54M385.84 782.47V785.73M415.53 773.5V777.9M445.22 763.5V769.1M474.92 753.7V760.3M504.61 745.5V754.3M534.3 746.4V755.2M563.99 757.7V766.3M593.69 778.3V785.3M623.38 800.1V806.1M653.07 810.5V813.5M682.76 811.9V813.9M712.46 811.7V813.3M742.15 811.1V812.3" stroke-width="2.75"/>
<path d="M142.8 808.61h11M142.8 809.41h11M172.49 807.97h11M172.49 808.77h11M202.19 807.03h11M202.19 807.83h11M231.88 805.64h11M231.88 806.44h11M261.57 803.54h11M261.57 804.51h11M291.26 800.47h11M291.26 801.79h11M320.95 796.13h11M320.95 797.91h11M350.65 790.13h11M350.65 792.54h11M380.34 782.47h11M380.34 785.73h11M410.03 773.5h11M410.03 777.9h11M439.72 763.5h11M439.72 769.1h11M469.42 753.7h11M469.42 760.3h11M499.11 745.5h11M499.11 754.3h11M528.8 746.4h11M528.8 755.2h11M558.49 757.7h11M558.49 766.3h11M588.19 778.3h11M588.19 785.3h11M617.88 800.1h11M617.88 806.1h11M647.57 810.5h11M647.57 813.5h11M677.26 811.9h11M677.26 813.9h11M706.96 811.7h11M706.96 813.3h11M736.65 811.1h11M736.65 812.3h11" stroke-width="1.85"/>
</g>
</g>
<rect x="127.6" y="921" width="213.4" height="280.02" rx="3.6" fill="#fff" fill-opacity="0.8" stroke="#ccc" stroke-width="1.45"/>
<g stroke="#440154" fill="none">
<path d="M133.6 934.8H171.5" stroke-width="2.75"/>
<path d="M152.5 925.9V944.9" stroke-width="2.75"/>
<path d="M147 925.9h11M147 944.9h11" stroke-width="1.85"/>
</g>
<text x="185.5" y="941" font-size="18.1">CNOT Count: 1</text>
<g stroke="#482475" fill="none">
<path d="M133.6 962.52H171.5" stroke-width="2.75"/>
<path d="M152.5 953.62V972.62" stroke-width="2.75"/>
<path d="M147 953.62h11M147 972.62h11" stroke-width="1.85"/>
</g>
<text x="185.5" y="968.72" font-size="18.1">CNOT Count: 5</text>
<g stroke="#414487" fill="none">
<path d="M133.6 990.24H171.5" stroke-width="2.75"/>
<path d="M152.5 981.34V1000.34" stroke-width="2.75"/>
<path d="M147 981.34h11M147 1000.34h11" stroke-width="1.85"/>
</g>
<text x="185.5" y="996.44" font-size="18.1">CNOT Count: 10</text>
<g stroke="#355f8d" fill="none">
<path d="M133.6 1017.96H171.5" stroke-width="2.75"/>
<path d="M152.5 1009.06V1028.06" stroke-width="2.75"/>
<path d="M147 1009.06h11M147 1028.06h11" stroke-width="1.85"/>
</g>
<text x="185.5" y="1024.16" font-size="18.1">CNOT Count: 15</text>
<g stroke="#2a788e" fill="none">
<path d="M133.6 1045.68H171.5" stroke-width="2.75"/>
<path d="M152.5 1036.78V1055.78" stroke-width="2.75"/>
<path d="M147 1036.78h11M147 1055.78h11" stroke-width="1.85"/>
</g>
<text x="185.5" y="1051.88" font-size="18.1">CNOT Count: 20</text>
<g stroke="#21918c" fill="none">
<path d="M133.6 1073.4H171.5" stroke-width="2.75"/>
<path d="M152.5 1064.5V1083.5" stroke-width="2.75"/>
<path d="M147 1064.5h11M147 1083.5h11" stroke-width="1.85"/>
</g>
<text x="185.5" y="1079.6" font-size="18.1">CNOT Count: 25</text>
<g stroke="#22a884" fill="none">
<path d="M133.6 1101.12H171.5" stroke-width="2.75"/>
<path d="M152.5 1092.22V1111.22" stroke-width="2.75"/>
<path d="M147 1092.22h11M147 1111.22h11" stroke-width="1.85"/>
</g>
<text x="185.5" y="1107.32" font-size="18.1">CNOT Count: 30</text>
<g stroke="#44bf70" fill="none">
<path d="M133.6 1128.84H171.5" stroke-width="2.75"/>
<path d="M152.5 1119.94V1138.94" stroke-width="2.75"/>
<path d="M147 1119.94h11M147 1138.94h11" stroke-width="1.85"/>
</g>
<text x="185.5" y="1135.04" font-size="18.1">CNOT Count: 35</text>
<g stroke="#7ad151" fill="none">
<path d="M133.6 1156.56H171.5" stroke-width="2.75"/>
<path d="M152.5 1147.66V1166.66" stroke-width="2.75"/>
<path d="M147 1147.66h11M147 1166.66h11" stroke-width="1.85"/>
</g>
<text x="185.5" y="1162.76" font-size="18.1">CNOT Count: 40</text>
<g stroke="#bddf26" fill="none">
<path d="M133.6 1184.28H171.5" stroke-width="2.75"/>
<path d="M152.5 1175.38V1194.38" stroke-width="2.75"/>
<path d="M147 1175.38h11M147 1194.38h11" stroke-width="1.85"/>
</g>
<text x="185.5" y="1190.48" font-size="18.1">CNOT Count: 80</text>
<rect x="118.45" y="724.55" width="653.7" height="485.95" fill="none" stroke="#000" stroke-width="1.47"/>
<path d="M148.3 1210.5v6.4M346.25 1210.5v6.4M544.2 1210.5v6.4M742.15 1210.5v6.4" stroke="#000" stroke-width="1.47" fill="none"/>
<path d="M129.12 1210.5v3.7M139.24 1210.5v3.7M207.89 1210.5v3.7M242.75 1210.5v3.7M267.48 1210.5v3.7M286.66 1210.5v3.7M302.34 1210.5v3.7M315.59 1210.5v3.7M327.07 1210.5v3.7M337.19 1210.5v3.7M405.84 1210.5v3.7M440.7 1210.5v3.7M465.43 1210.5v3.7M484.61 1210.5v3.7M500.29 1210.5v3.7M513.54 1210.5v3.7M525.02 1210.5v3.7M535.14 1210.5v3.7M603.79 1210.5v3.7M638.65 1210.5v3.7M663.38 1210.5v3.7M682.56 1210.5v3.7M698.24 1210.5v3.7M711.49 1210.5v3.7M722.97 1210.5v3.7M733.09 1210.5v3.7" stroke="#000" stroke-width="1.1" fill="none"/>
<text transform="translate(127 1242.9) scale(0.965 1.02)" font-size="18.3">10</text>
<text transform="translate(149.4 1236.5) scale(1 1.16)" font-size="12.8">−5</text>
<text transform="translate(324.95 1242.9) scale(0.965 1.02)" font-size="18.3">10</text>
<text transform="translate(347.35 1236.5) scale(1 1.16)" font-size="12.8">−4</text>
<text transform="translate(522.9 1242.9) scale(0.965 1.02)" font-size="18.3">10</text>
<text transform="translate(545.3 1236.5) scale(1 1.16)" font-size="12.8">−3</text>
<text transform="translate(720.85 1242.9) scale(0.965 1.02)" font-size="18.3">10</text>
<text transform="translate(743.25 1236.5) scale(1 1.16)" font-size="12.8">−2</text>
<path d="M118.45 752.3h-6.4M118.45 812h-6.4M118.45 871.7h-6.4M118.45 931.4h-6.4M118.45 991.1h-6.4M118.45 1050.8h-6.4M118.45 1110.5h-6.4M118.45 1170.2h-6.4" stroke="#000" stroke-width="1.47" fill="none"/>
<text transform="translate(103.6 759.2) scale(0.967 1)" font-size="18.3" text-anchor="end">0.1</text>
<text transform="translate(103.6 818.9) scale(0.967 1)" font-size="18.3" text-anchor="end">0.0</text>
<text transform="translate(103.6 878.6) scale(0.967 1)" font-size="18.3" text-anchor="end">−0.1</text>
<text transform="translate(103.6 938.3) scale(0.967 1)" font-size="18.3" text-anchor="end">−0.2</text>
<text transform="translate(103.6 998) scale(0.967 1)" font-size="18.3" text-anchor="end">−0.3</text>
<text transform="translate(103.6 1057.7) scale(0.967 1)" font-size="18.3" text-anchor="end">−0.4</text>
<text transform="translate(103.6 1117.4) scale(0.967 1)" font-size="18.3" text-anchor="end">−0.5</text>
<text transform="translate(103.6 1177.1) scale(0.967 1)" font-size="18.3" text-anchor="end">−0.6</text>
<text transform="translate(445.3 711.8) scale(1 1.06)" font-size="22.2" text-anchor="middle">Qubits: 10, Layers: 1, Rz: 5</text>
<text transform="translate(443.9 1273.5) scale(1 1.08)" font-size="21.95" text-anchor="middle">Single Qubit Error</text>
<text transform="translate(47.1 967.5) rotate(-90) scale(1 1.08)" font-size="21.95" text-anchor="middle">Average Fidelity Gain</text>
</g>
<text x="1.5" y="636.6" font-size="32.5" font-family='"Liberation Serif", "DejaVu Serif", serif' word-spacing="3.82">(a) One layer using max weight checks for five compute qubits.</text>
<text x="4.3" y="1326.9" font-size="32.5" font-family='"Liberation Serif", "DejaVu Serif", serif' word-spacing="4.27">(b) One layer using max weight checks for ten compute qubits.</text>
</svg>
</body></html>
